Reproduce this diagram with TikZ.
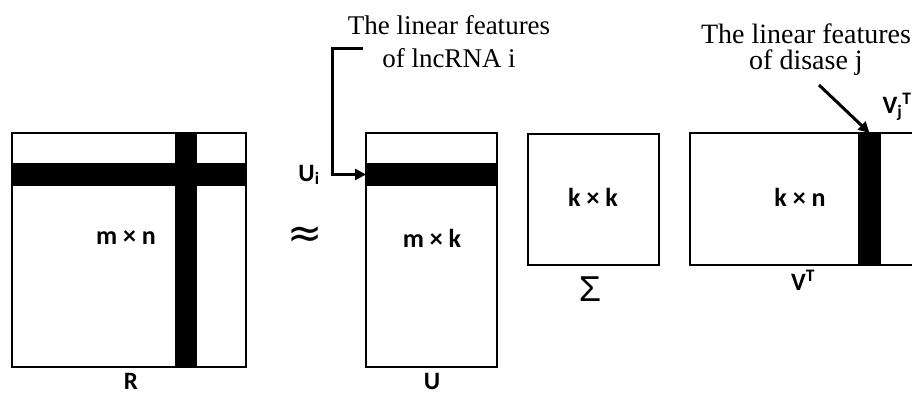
\documentclass[tikz,border=0pt]{standalone}
\usepackage{fontspec}
\setmainfont{Liberation Serif}
\newfontfamily\labfont{Carlito}
\newfontfamily\symfont{DejaVu Sans}
\newfontfamily\sigfont{Liberation Sans}
\usetikzlibrary{arrows.meta}
\begin{document}
\begin{tikzpicture}[x=1pt,y=-1pt,
  mat/.style={draw,line width=2pt,inner sep=0pt,outer sep=0pt,fill=white},
  bar/.style={fill=black,inner sep=0pt,outer sep=0pt},
  dimtext/.style={font=\labfont\bfseries\fontsize{26}{28}\selectfont},
  nametext/.style={font=\labfont\bfseries\fontsize{25}{26}\selectfont,inner sep=0.5pt},
  note/.style={align=center},
  conn/.style={line width=3pt,-{Triangle[length=11pt,width=11pt]}}]
\clip (0,0) rectangle (912,395);
\fill[white] (0,0) rectangle (912,395);
% R
\node[mat,minimum width=234pt,minimum height=234pt] (R) at (129,250) {};
\node[bar,minimum width=234pt,minimum height=23pt] (Rrow) at (129,174.5) {};
\node[bar,minimum width=22pt,minimum height=234pt] (Rcol) at (186,250) {};
\node[dimtext] (Rdim) at (126,238) {m × n};
\node[nametext] (Rname) at (131,381) {R};
% approx
\node[font=\symfont\fontsize{42}{42}\selectfont] (approx) at (305,237) {≈};
% U
\node[mat,minimum width=131pt,minimum height=234pt] (U) at (431.5,250) {};
\node[bar,minimum width=131pt,minimum height=23pt] (Urow) at (431.5,174.5) {};
\node[dimtext] (Udim) at (432,238) {m × k};
\node[nametext] (Uname) at (432,381) {U};
\node[nametext] (Ui) at (309,175) {U\textsubscript{i}};
% Sigma
\node[mat,minimum width=131pt,minimum height=131pt] (S) at (593.5,199.5) {};
\node[dimtext] (Sdim) at (593,197) {k × k};
\node[font=\sigfont\fontsize{36}{36}\selectfont,inner sep=1pt] (Sname) at (590,289) {Σ};
% V^T
\node[mat,minimum width=234pt,minimum height=132pt] (V) at (807,199) {};
\node[bar,minimum width=23pt,minimum height=132pt] (Vcol) at (869.5,199) {};
\node[dimtext] (Vdim) at (800,197) {k × n};
\node[nametext] (Vname) at (803,280) {V\textsuperscript{T}};
\node[nametext] (Vj) at (897,107) {V\textsubscript{j}\textsuperscript{T}};
% notes
\node[note,font=\fontsize{27}{33}\selectfont] (note1) at (449,42) {The linear features\\of lncRNA i};
\node[note,font=\fontsize{28}{26}\selectfont] (note2) at (806,50) {The linear features\\of disase j};
% connectors
\coordinate (a0) at (363,49);
\coordinate (a1) at (332,49);
\coordinate (a2) at (332,174.5);
\draw[conn] (a0) -- (a1) -- (a2) -- (Urow.west);
\coordinate (b0) at (819,85);
\draw[conn] (b0) -- (Vcol.north);
\end{tikzpicture}
\end{document}
